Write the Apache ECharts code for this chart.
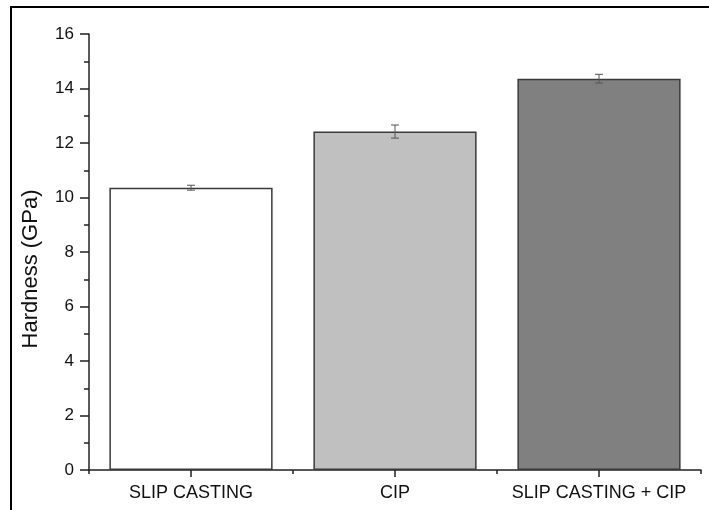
<!DOCTYPE html>
<html>
<head>
<meta charset="utf-8">
<script src="https://cdn.jsdelivr.net/npm/echarts@6/dist/echarts.min.js"></script>
<style>
  html, body { margin: 0; padding: 0; background: #fff; }
  #chart { width: 709px; height: 510px; }
</style>
</head>
<body>
<div id="chart"></div>
<script>
// Processing routes and measured Vickers hardness
const categories = ['SLIP CASTING', 'CIP', 'SLIP CASTING + CIP'];
const hardness = [10.36, 12.42, 14.36];
const hardnessError = [0.09, 0.24, 0.16];
const barColors = ['#ffffff', '#c0c0c0', '#808080'];
const yTicks = { min: 0, max: 16, interval: 2 };

const FONT = 'Liberation Sans, Arial, sans-serif';

const chart = echarts.init(document.getElementById('chart'), null, { renderer: 'canvas' });

const errorData = hardness.map((v, i) => [i, v - hardnessError[i], v + hardnessError[i]]);

chart.setOption({
  animation: false,
  backgroundColor: '#ffffff',
  grid: { left: 89, right: 8, top: 34, bottom: 40, containLabel: false },
  xAxis: [
    {
      type: 'category',
      data: categories,
      boundaryGap: true,
      axisLine: { show: true, lineStyle: { color: '#222', width: 1.5 } },
      axisTick: { show: true, alignWithLabel: true, interval: 0, length: 7, lineStyle: { color: '#222', width: 1.5 } },
      axisLabel: { color: '#111', fontFamily: FONT, fontSize: 18, margin: 14, interval: 0, hideOverlap: false },
      splitLine: { show: false }
    },
    {
      // boundary ticks between categories
      type: 'category',
      data: categories,
      position: 'bottom',
      boundaryGap: true,
      axisLine: { show: false },
      axisTick: { show: true, interval: 0, length: 4, lineStyle: { color: '#222', width: 1.5 } },
      axisLabel: { show: false },
      splitLine: { show: false }
    }
  ],
  yAxis: {
    type: 'value',
    min: yTicks.min,
    max: yTicks.max,
    interval: yTicks.interval,
    axisLine: { show: true, lineStyle: { color: '#222', width: 1.5 } },
    axisTick: { show: true, length: 9, lineStyle: { color: '#222', width: 1.5 } },
    minorTick: { show: true, splitNumber: 2, length: 5, lineStyle: { color: '#222', width: 1.5 } },
    axisLabel: { color: '#111', fontFamily: FONT, fontSize: 17, margin: 15 },
    splitLine: { show: false }
  },
  series: [
    {
      type: 'bar',
      barWidth: '80%',
      data: hardness.map((v, i) => ({
        value: v,
        itemStyle: { color: barColors[i] }
      })),
      itemStyle: { borderColor: '#3a3a3a', borderWidth: 1.5 }
    },
    {
      type: 'custom',
      data: errorData,
      z: 10,
      renderItem: function (params, api) {
        const x = api.value(0);
        const lo = api.coord([x, api.value(1)]);
        const hi = api.coord([x, api.value(2)]);
        const cap = 4;
        const style = { stroke: '#555', lineWidth: 1 };
        return {
          type: 'group',
          children: [
            { type: 'line', shape: { x1: lo[0], y1: lo[1], x2: hi[0], y2: hi[1] }, style },
            { type: 'line', shape: { x1: hi[0] - cap, y1: hi[1], x2: hi[0] + cap, y2: hi[1] }, style },
            { type: 'line', shape: { x1: lo[0] - cap, y1: lo[1], x2: lo[0] + cap, y2: lo[1] }, style }
          ]
        };
      }
    }
  ],
  graphic: [
    {
      type: 'rect',
      shape: { x: 11, y: 7, width: 800, height: 600 },
      style: { fill: 'none', stroke: '#000', lineWidth: 2 },
      silent: true
    },
    {
      type: 'text',
      x: 31,
      y: 269,
      rotation: Math.PI / 2,
      style: {
        text: 'Hardness (GPa)',
        fontFamily: FONT,
        fontSize: 22,
        fill: '#111',
        align: 'center',
        verticalAlign: 'middle'
      }
    }
  ]
});
</script>
</body>
</html>
